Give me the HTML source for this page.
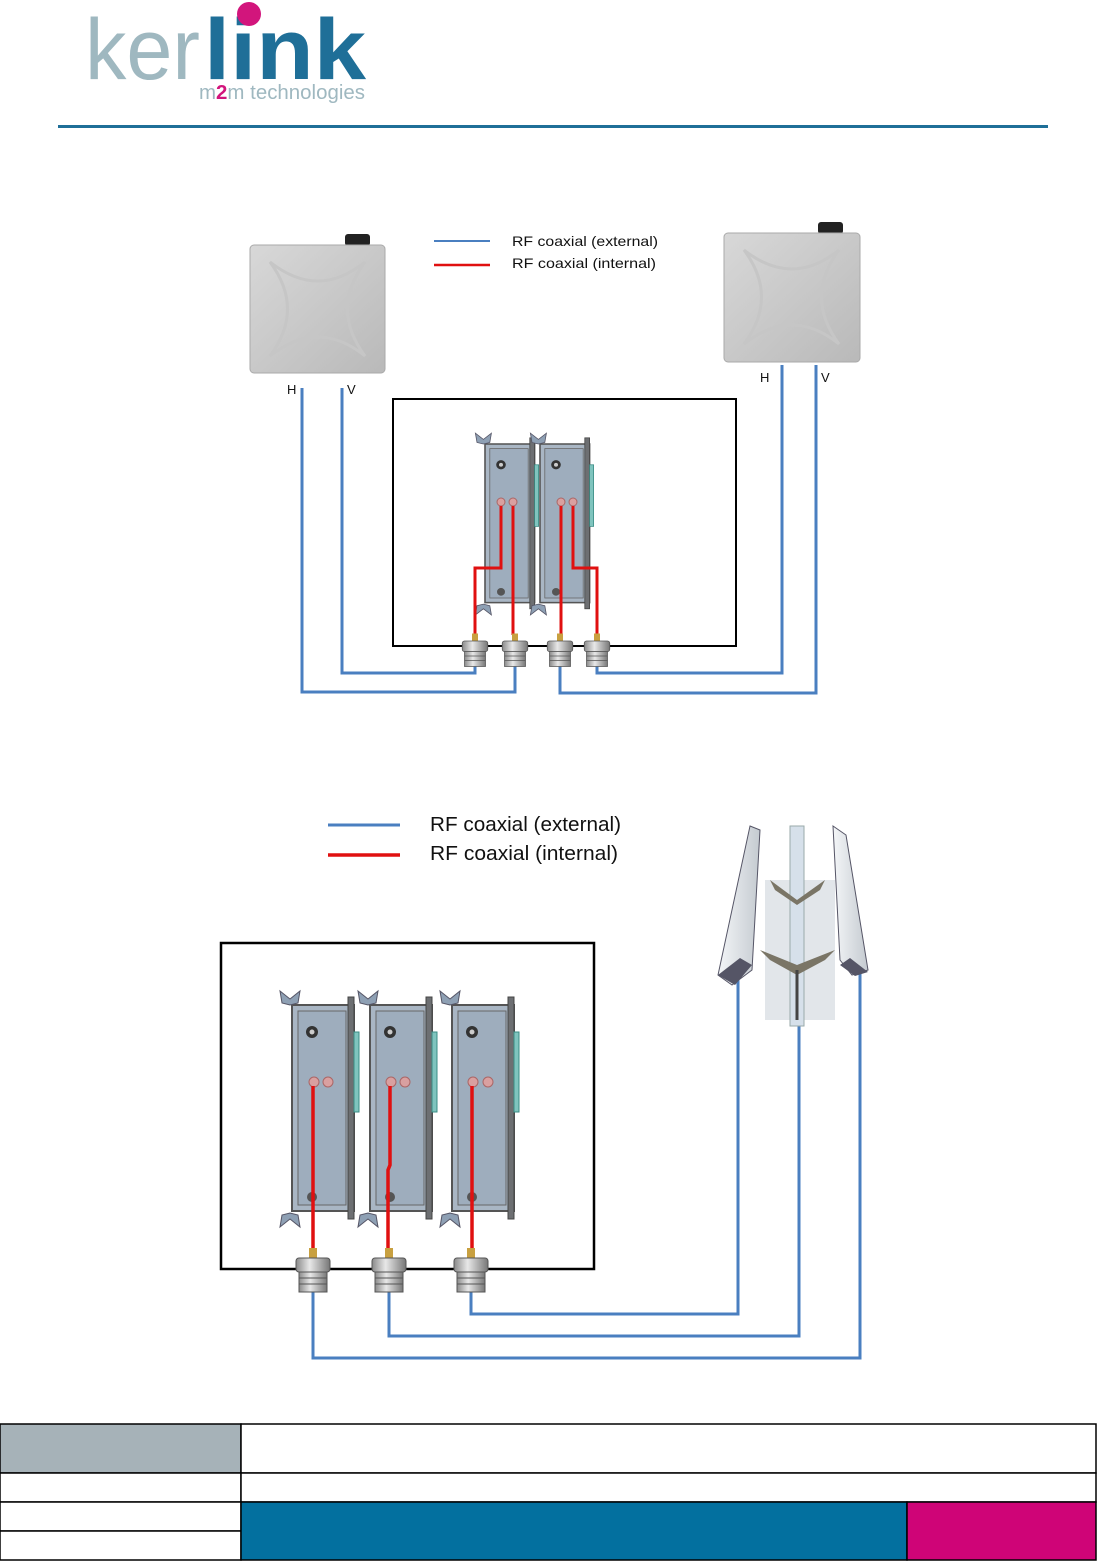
<!DOCTYPE html>
<html><head><meta charset="utf-8"><style>
html,body{margin:0;padding:0;background:#fff;}
body{width:1097px;height:1561px;position:relative;overflow:hidden;font-family:"Liberation Sans",sans-serif;}
</style></head><body>
<svg width="1097" height="1561" viewBox="0 0 1097 1561" xmlns="http://www.w3.org/2000/svg" style="position:absolute;left:0;top:0">
<defs>
<linearGradient id="pan" x1="0" y1="0" x2="1" y2="1"><stop offset="0" stop-color="#d8d8d8"/><stop offset="1" stop-color="#b9b9b9"/></linearGradient>
<linearGradient id="con" x1="0" y1="0" x2="1" y2="0"><stop offset="0" stop-color="#8a8a8a"/><stop offset="0.4" stop-color="#e8e8e8"/><stop offset="1" stop-color="#777"/></linearGradient>
<linearGradient id="blade" x1="0" y1="0" x2="1" y2="0"><stop offset="0" stop-color="#f4f6f8"/><stop offset="1" stop-color="#c4cad0"/></linearGradient>
<g id="mod">
<rect x="0" y="0" width="8" height="10" fill="#888"/>
<rect x="0" y="0" width="62" height="206" fill="#a9b6c4" stroke="#555" stroke-width="2"/>
<rect x="6" y="6" width="48" height="194" fill="#9eadbd" stroke="#666" stroke-width="1"/>
<rect x="56" y="-8" width="6" height="222" fill="#6d6f72" stroke="#444" stroke-width="1"/>
<rect x="62" y="27" width="5" height="80" fill="#7fc4be" stroke="#3a8c84" stroke-width="1"/>
<path d="M-12 -14 l10 8 l10 -8 l-2 12 l-8 2 l-8 -2z" fill="#8ea0b4" stroke="#556" stroke-width="1"/>
<circle cx="20" cy="27" r="6" fill="#333"/><circle cx="20" cy="27" r="2.5" fill="#ccc"/>
<path d="M-12 222 l10 -8 l10 8 l-2 -12 l-8 -2 l-8 2z" fill="#8ea0b4" stroke="#556" stroke-width="1"/>
<circle cx="20" cy="192" r="5" fill="#555"/>
</g>
<g id="conn">
<rect x="-4" y="-10" width="8" height="10" fill="#c8a040"/>
<rect x="-17" y="0" width="34" height="14" rx="3" fill="url(#con)" stroke="#555"/>
<rect x="-14" y="14" width="28" height="20" fill="url(#con)" stroke="#555"/>
<line x1="-14" y1="20" x2="14" y2="20" stroke="#555"/><line x1="-14" y1="26" x2="14" y2="26" stroke="#555"/>
</g>
</defs>

<!-- logo -->
<text x="85" y="79" font-size="86" fill="#9fb8c0" textLength="115" lengthAdjust="spacingAndGlyphs">ker</text>
<text x="204" y="79" font-size="86" font-weight="bold" fill="#1f6f98" textLength="162" lengthAdjust="spacingAndGlyphs">link</text>
<circle cx="249" cy="14" r="12" fill="#d2157c"/>
<text x="199" y="99" font-size="20" fill="#9fb8c0" textLength="166" lengthAdjust="spacingAndGlyphs">m<tspan fill="#d2157c" font-weight="bold">2</tspan>m technologies</text>
<rect x="58" y="125" width="990" height="3" fill="#1f6f98"/>

<!-- TOP DIAGRAM -->
<rect x="345" y="234" width="25" height="12" rx="3" fill="#222"/>
<rect x="250" y="245" width="135" height="128" rx="4" fill="url(#pan)" stroke="#aaa"/>
<path d="M270 262 Q318 300 365 262 Q330 309 365 356 Q318 318 270 356 Q305 309 270 262z" fill="none" stroke="#c6c6c6" stroke-width="3"/>
<rect x="818" y="222" width="25" height="12" rx="3" fill="#222"/>
<rect x="724" y="233" width="136" height="129" rx="4" fill="url(#pan)" stroke="#aaa"/>
<path d="M744 250 Q792 288 839 250 Q804 297 839 344 Q792 306 744 344 Q779 297 744 250z" fill="none" stroke="#c6c6c6" stroke-width="3"/>

<line x1="434" y1="241" x2="490" y2="241" stroke="#4a7fc0" stroke-width="2"/>
<line x1="434" y1="265" x2="490" y2="265" stroke="#e01010" stroke-width="2.5"/>
<text x="512" y="246" font-size="14" fill="#111" textLength="146" lengthAdjust="spacingAndGlyphs">RF coaxial (external)</text>
<text x="512" y="268" font-size="14" fill="#111" textLength="144" lengthAdjust="spacingAndGlyphs">RF coaxial (internal)</text>
<text x="287" y="394" font-size="13" fill="#111">H</text>
<text x="347" y="394" font-size="13" fill="#111">V</text>
<text x="760" y="382" font-size="13" fill="#111">H</text>
<text x="821" y="382" font-size="13" fill="#111">V</text>

<rect x="393" y="399" width="343" height="247" fill="none" stroke="#000" stroke-width="2"/>
<g transform="translate(485,444) scale(0.8,0.77)"><use href="#mod"/></g>
<g transform="translate(540,444) scale(0.8,0.77)"><use href="#mod"/></g>
<circle cx="501" cy="502" r="4" fill="#d9a0a0" stroke="#a66"/><circle cx="513" cy="502" r="4" fill="#d9a0a0" stroke="#a66"/>
<circle cx="561" cy="502" r="4" fill="#d9a0a0" stroke="#a66"/><circle cx="573" cy="502" r="4" fill="#d9a0a0" stroke="#a66"/>
<g fill="none" stroke-width="3">
<path d="M302 388 V692 H515 V660" stroke="#4a7fc0"/>
<path d="M342 388 V673 H475 V660" stroke="#4a7fc0"/>
<path d="M782 365 V673 H597 V660" stroke="#4a7fc0"/>
<path d="M816 365 V693 H560 V660" stroke="#4a7fc0"/>
<path d="M501 506 V568 H475 V635" stroke="#e01010"/>
<path d="M513 506 V635" stroke="#e01010"/>
<path d="M561 506 V635" stroke="#e01010"/>
<path d="M573 506 V568 H597 V635" stroke="#e01010"/>
</g>
<g transform="translate(475,641) scale(0.75)"><use href="#conn"/></g>
<g transform="translate(515,641) scale(0.75)"><use href="#conn"/></g>
<g transform="translate(560,641) scale(0.75)"><use href="#conn"/></g>
<g transform="translate(597,641) scale(0.75)"><use href="#conn"/></g>

<!-- BOTTOM DIAGRAM -->
<line x1="328" y1="825" x2="400" y2="825" stroke="#4a7fc0" stroke-width="3"/>
<line x1="328" y1="855" x2="400" y2="855" stroke="#e01010" stroke-width="3.5"/>
<text x="430" y="831" font-size="20" fill="#111" textLength="191" lengthAdjust="spacingAndGlyphs">RF coaxial (external)</text>
<text x="430" y="860" font-size="20" fill="#111" textLength="188" lengthAdjust="spacingAndGlyphs">RF coaxial (internal)</text>

<rect x="221" y="943" width="373" height="326" fill="none" stroke="#000" stroke-width="2.5"/>
<use href="#mod" transform="translate(292,1005)"/>
<use href="#mod" transform="translate(370,1005)"/>
<use href="#mod" transform="translate(452,1005)"/>
<g fill="#d9a0a0" stroke="#a66"><circle cx="314" cy="1082" r="5"/><circle cx="328" cy="1082" r="5"/><circle cx="391" cy="1082" r="5"/><circle cx="405" cy="1082" r="5"/><circle cx="473" cy="1082" r="5"/><circle cx="488" cy="1082" r="5"/></g>
<g fill="none" stroke-width="3.5">
<path d="M313 1086 V1250" stroke="#e01010"/>
<path d="M390 1086 V1165 L388 1170 V1250" stroke="#e01010"/>
<path d="M472 1086 V1250" stroke="#e01010"/>
<path d="M471 1290 V1314 H738 V973" stroke="#4a7fc0" stroke-width="3"/>
<path d="M389 1290 V1336 H799 V1020" stroke="#4a7fc0" stroke-width="3"/>
<path d="M313 1290 V1358 H860 V970" stroke="#4a7fc0" stroke-width="3"/>
</g>
<use href="#conn" transform="translate(313,1258)"/>
<use href="#conn" transform="translate(389,1258)"/>
<use href="#conn" transform="translate(471,1258)"/>

<!-- sector antenna -->
<rect x="765" y="880" width="70" height="140" fill="#e2e6ea"/>
<rect x="790" y="826" width="14" height="200" fill="#d6e0ea" stroke="#9aa"/>
<path d="M750 826 L760 830 L752 970 L732 985 L718 975 Z" fill="url(#blade)" stroke="#556"/>
<path d="M833 826 L846 835 L868 970 L852 975 L840 960 Z" fill="url(#blade)" stroke="#556"/>
<path d="M718 975 L740 958 L752 965 L735 985 Z" fill="#556"/>
<path d="M868 972 L850 958 L840 965 L855 976 Z" fill="#556"/>
<path d="M770 880 L797 900 L825 880 L820 890 L797 905 L775 890Z M760 950 L797 965 L835 950 L825 960 L797 975 L770 960Z" fill="#7a7566"/>
<line x1="797" y1="970" x2="797" y2="1020" stroke="#444" stroke-width="3"/>

<!-- footer table -->
<g stroke="#000" stroke-width="1.5">
<rect x="0" y="1424" width="241" height="49" fill="#a6b2b8"/>
<rect x="241" y="1424" width="855" height="49" fill="#fff"/>
<rect x="0" y="1473" width="241" height="29" fill="#fff"/>
<rect x="241" y="1473" width="855" height="29" fill="#fff"/>
<rect x="0" y="1502" width="241" height="29" fill="#fff"/>
<rect x="0" y="1531" width="241" height="29" fill="#fff"/>
<rect x="241" y="1502" width="666" height="58" fill="#03709f"/>
<rect x="907" y="1502" width="189" height="58" fill="#cf0477"/>
</g>
</svg>
</body></html>
